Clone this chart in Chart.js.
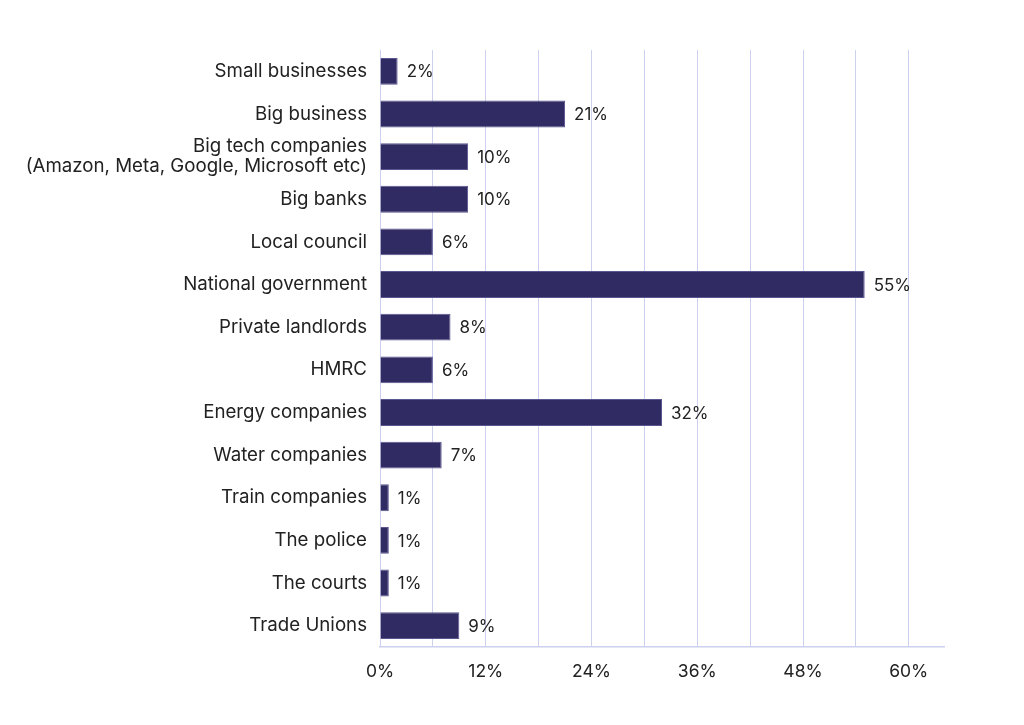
<!DOCTYPE html>
<html>
<head>
<meta charset="utf-8">
<script src="https://cdn.jsdelivr.net/npm/chart.js@4"></script>
<style>
  html, body { margin: 0; padding: 0; background: #fff; }
  #wrap { width: 1024px; height: 725px; }
</style>
</head>
<body>
<div id="wrap"><canvas id="myChart" width="1024" height="725"></canvas></div>
<script>
const categories = [
    'Small businesses',
    'Big business',
    ['Big tech companies', '(Amazon, Meta, Google, Microsoft etc)'],
    'Big banks',
    'Local council',
    'National government',
    'Private landlords',
    'HMRC',
    'Energy companies',
    'Water companies',
    'Train companies',
    'The police',
    'The courts',
    'Trade Unions'
];
const values = [2, 21, 10, 10, 6, 55, 8, 6, 32, 7, 1, 1, 1, 9];
const tickLabels = [0, 12, 24, 36, 48, 60];

const fontFamily = 'Inter, "Noto Sans", sans-serif';
const textColor = '#222222';
const gridColor = '#cdd0ee';

// labels at the end of each bar
const barLabels = {
    id: 'barLabels',
    afterDatasetsDraw(chart) {
        const c = chart.ctx;
        const meta = chart.getDatasetMeta(0);
        c.save();
        c.font = '17px ' + fontFamily;
        c.fillStyle = textColor;
        c.textBaseline = 'middle';
        c.textAlign = 'left';
        meta.data.forEach((bar, i) => {
            c.fillText(values[i] + '%', bar.x + 9, bar.y + 1);
        });
        c.restore();
    }
};

const ctx = document.querySelector('#myChart').getContext('2d');

const myChart = new Chart(ctx, {
    type: 'bar',
    data: {
        labels: categories,
        datasets: [{
            data: values,
            backgroundColor: '#302c63',
            borderColor: '#5a5690',
            borderWidth: 1,
            barPercentage: 0.7,
            categoryPercentage: 0.9
        }]
    },
    options: {
        indexAxis: 'y',
        responsive: false,
        animation: false,
        layout: { padding: { top: 50, right: 80, bottom: 29, left: 0 } },
        plugins: {
            legend: { display: false },
            tooltip: { enabled: false }
        },
        scales: {
            x: {
                min: 0,
                max: 64,
                ticks: {
                    stepSize: 6,
                    includeBounds: false,
                    padding: 14,
                    color: textColor,
                    font: { family: fontFamily, size: 17.5 },
                    callback: v => tickLabels.includes(v) ? v + '%' : ''
                },
                grid: { color: gridColor, lineWidth: 1, drawTicks: false },
                border: { color: gridColor, width: 1.5 }
            },
            y: {
                afterFit: s => { s.width = 380; },
                ticks: {
                    autoSkip: false,
                    padding: 13,
                    color: textColor,
                    font: { family: fontFamily, size: 18.7, lineHeight: 1.05 }
                },
                grid: { display: false, drawTicks: false },
                border: { display: false }
            }
        }
    },
    plugins: [barLabels]
});
</script>
</body>
</html>
